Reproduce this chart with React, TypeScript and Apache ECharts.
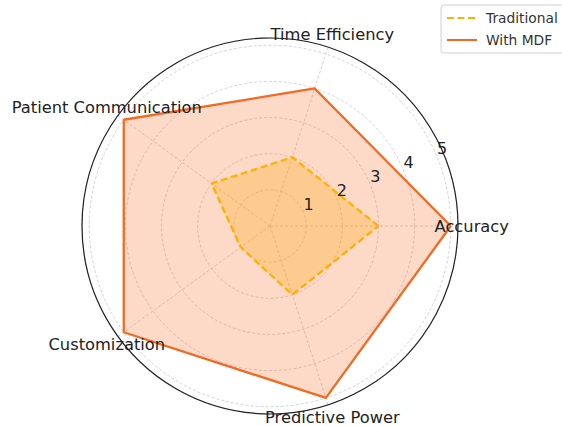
import React, { useEffect, useRef } from "react";
import * as echarts from "echarts";

const categories = ["Accuracy", "Time Efficiency", "Patient Communication", "Customization", "Predictive Power"];
const traditional = [3, 2, 2, 1, 2];
const withMDF = [5, 4, 5, 5, 5];
const radialTicks = [1, 2, 3, 4, 5];
const seriesNames = ["Traditional", "With MDF"];

const FONT = "DejaVu Sans";
const STEP = 360 / categories.length;
const R_MAX = 5.2;
const LABEL_R = 5.58;
const TICK_ANGLE = 22.5;

function toPolar(vals: number[]) {
  const pts = vals.map((v, i) => [v, i * STEP]);
  pts.push([vals[0], 360]);
  return pts;
}

export default function App() {
  const ref = useRef<HTMLDivElement>(null);
  useEffect(() => {
    if (!ref.current) return;
    const chart = echarts.init(ref.current, null, { renderer: "svg" });
    const option: any = {
      animation: false,
      backgroundColor: "#ffffff",
      textStyle: { fontFamily: FONT },
      polar: { center: [270, 226], radius: 188 },
      angleAxis: {
        type: "value",
        min: 0,
        max: 360,
        interval: STEP,
        startAngle: 0,
        clockwise: false,
        axisLine: { show: true, lineStyle: { color: "#222222", width: 1.2 } },
        axisTick: { show: false },
        axisLabel: { show: false },
        splitLine: { show: true, lineStyle: { color: "#c8c8c8", width: 0.8, type: [3, 2] } },
      },
      radiusAxis: {
        type: "value",
        min: 0,
        max: R_MAX,
        interval: 1,
        axisLine: { show: false },
        axisTick: { show: false },
        axisLabel: { show: false },
        splitLine: { show: true, lineStyle: { color: "#c8c8c8", width: 0.8, type: [3, 2] } },
      },
      legend: {
        data: seriesNames,
        orient: "vertical",
        left: 441,
        top: 5,
        itemWidth: 30,
        itemHeight: 12,
        itemGap: 8,
        padding: [6, 8, 6, 5],
        backgroundColor: "#ffffff",
        borderColor: "#d0d0d0",
        borderWidth: 1,
        borderRadius: 3,
        itemStyle: { opacity: 0 },
        textStyle: { fontFamily: FONT, fontSize: 13.8, color: "#333333", padding: [0, 0, 0, 4] },
      },
      series: [
        {
          name: "With MDF",
          type: "line",
          coordinateSystem: "polar",
          data: toPolar(withMDF),
          symbol: "none",
          lineStyle: { color: "#f26a21", width: 2.3 },
          itemStyle: { color: "#f26a21" },
          areaStyle: { color: "#f26a21", opacity: 0.25 },
          z: 2,
        },
        {
          name: "Traditional",
          type: "line",
          coordinateSystem: "polar",
          data: toPolar(traditional),
          symbol: "none",
          lineStyle: { color: "#ffb000", width: 2.3, type: [7, 3.5] },
          itemStyle: { color: "#ffb000" },
          areaStyle: { color: "#ffa500", opacity: 0.28 },
          z: 3,
        },
      ],
    };
    chart.setOption(option);

    const graphics: any[] = [];
    categories.forEach((c, i) => {
      const p = chart.convertToPixel({ seriesIndex: 0 }, [LABEL_R, i * STEP]) as number[];
      graphics.push({
        type: "text",
        x: p[0],
        y: p[1],
        z: 10,
        style: {
          text: c,
          fontFamily: FONT,
          fontSize: 16.3,
          fill: "#222222",
          align: "center",
          verticalAlign: "middle",
        },
      });
    });
    radialTicks.forEach((t) => {
      const p = chart.convertToPixel({ seriesIndex: 0 }, [t, TICK_ANGLE]) as number[];
      graphics.push({
        type: "text",
        x: p[0],
        y: p[1],
        z: 10,
        style: {
          text: String(t),
          fontFamily: FONT,
          fontSize: 16,
          fill: "#222222",
          align: "left",
          verticalAlign: "bottom",
        },
      });
    });
    chart.setOption({ graphic: graphics });

    return () => chart.dispose();
  }, []);
  return (
    <div
      ref={ref}
      style={{ position: "fixed", left: 0, top: 0, width: 562, height: 426, background: "#fff" }}
    />
  );
}
